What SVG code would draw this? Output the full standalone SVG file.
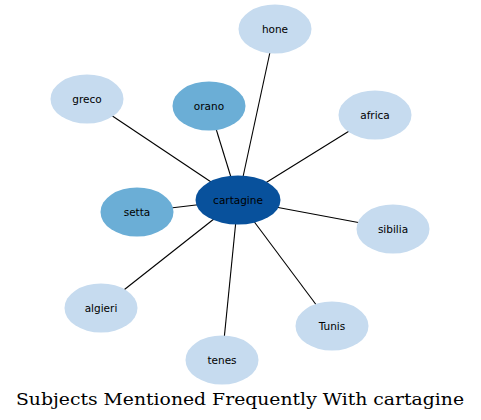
<svg xmlns="http://www.w3.org/2000/svg" width="481" height="420" viewBox="0 0 481 420">
<style>
.e{stroke:#000;stroke-width:1.1;fill:none}
.n1{fill:#c6dbef}
.n2{fill:#6baed6}
.n3{fill:#08519c}
text{font-family:"DejaVu Sans",sans-serif;font-size:10.5px;text-anchor:middle;dominant-baseline:central;fill:#000}
.t{font-family:"DejaVu Serif",serif;font-size:17px}
</style>
<rect width="481" height="420" fill="#fff"/>
<g id="connectors">
<line class="e" x1="238" y1="200" x2="275" y2="29"/>
<line class="e" x1="238" y1="200" x2="87" y2="99"/>
<line class="e" x1="238" y1="200" x2="209" y2="106"/>
<line class="e" x1="238" y1="200" x2="375" y2="115"/>
<line class="e" x1="238" y1="200" x2="137" y2="212"/>
<line class="e" x1="238" y1="200" x2="393" y2="229"/>
<line class="e" x1="238" y1="200" x2="101" y2="308"/>
<line class="e" x1="238" y1="200" x2="332" y2="326"/>
<line class="e" x1="238" y1="200" x2="222" y2="360"/>
</g>
<g id="hone"><ellipse class="n1" cx="275" cy="29" rx="36.5" ry="24.5"/><text x="275" y="29">hone</text></g>
<g id="greco"><ellipse class="n1" cx="87" cy="99" rx="36.5" ry="24.5"/><text x="87" y="99">greco</text></g>
<g id="orano"><ellipse class="n2" cx="209" cy="106" rx="36.5" ry="24.5"/><text x="209" y="106">orano</text></g>
<g id="africa"><ellipse class="n1" cx="375" cy="115" rx="36.5" ry="24.5"/><text x="375" y="115">africa</text></g>
<g id="setta"><ellipse class="n2" cx="137" cy="212" rx="36.5" ry="24.5"/><text x="137" y="212">setta</text></g>
<g id="sibilia"><ellipse class="n1" cx="393" cy="229" rx="36.5" ry="24.5"/><text x="393" y="229">sibilia</text></g>
<g id="algieri"><ellipse class="n1" cx="101" cy="308" rx="36.5" ry="24.5"/><text x="101" y="308">algieri</text></g>
<g id="Tunis"><ellipse class="n1" cx="332" cy="326" rx="36.5" ry="24.5"/><text x="332" y="326">Tunis</text></g>
<g id="tenes"><ellipse class="n1" cx="222" cy="360" rx="36.5" ry="24.5"/><text x="222" y="360">tenes</text></g>
<g id="cartagine"><ellipse class="n3" cx="238" cy="200" rx="42.5" ry="24.5"/><text x="238" y="200">cartagine</text></g>
<text class="t" x="240" y="399" textLength="448" lengthAdjust="spacingAndGlyphs">Subjects Mentioned Frequently With cartagine</text>
</svg>
